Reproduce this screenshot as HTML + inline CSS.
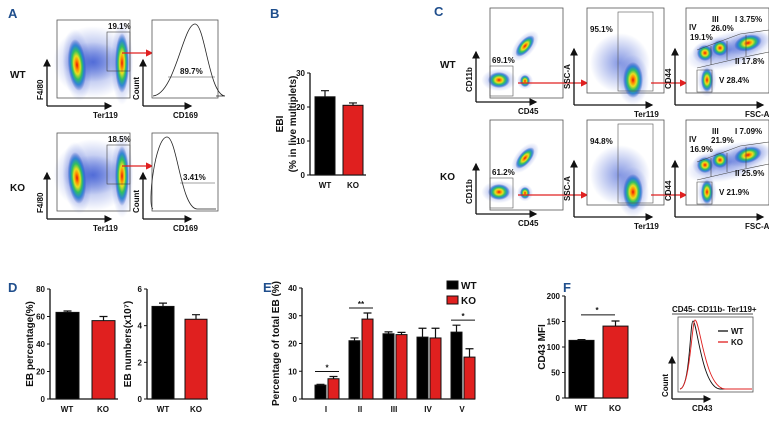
<!DOCTYPE html>
<html><head><meta charset="utf-8"><style>
body{margin:0;background:#fff}
svg{display:block;font-family:"Liberation Sans",Arial,sans-serif}
.t{font-size:8px;font-weight:bold;fill:#111}
.l{font-size:10px;font-weight:bold;fill:#111}
.p{font-size:13px;font-weight:bold;fill:#1f4e8c}
</style></head><body>
<svg id="fig" width="769" height="421" viewBox="0 0 769 421">
<defs>
<radialGradient id="den"><stop offset="0" stop-color="#e01010"/><stop offset="0.18" stop-color="#ff8a00"/><stop offset="0.35" stop-color="#e8e020"/><stop offset="0.55" stop-color="#30c060"/><stop offset="0.75" stop-color="#2080d0" stop-opacity="0.9"/><stop offset="1" stop-color="#2040c0" stop-opacity="0"/></radialGradient>
<radialGradient id="haze"><stop offset="0" stop-color="#3050d0" stop-opacity="0.6"/><stop offset="1" stop-color="#3050d0" stop-opacity="0"/></radialGradient>
<marker id="ab" markerWidth="6" markerHeight="6" refX="5" refY="3" orient="auto"><path d="M0,0L6,3L0,6z" fill="#111"/></marker>
<marker id="ar" markerWidth="6" markerHeight="6" refX="5" refY="3" orient="auto"><path d="M0,0L6,3L0,6z" fill="#e02020"/></marker>
</defs>
<g id="flow"></g>
<g id="bars"></g>
</svg>
<script>
// ---- chart data ----
const groupsB=['WT','KO'];const valuesB=[23,20.5];const errB=[1.8,0.7];const ticksB=[0,10,20,30];
const groupsD1=['WT','KO'];const valuesD1=[63,57];const errD1=[1,3];const ticksD1=[0,20,40,60,80];
const groupsD2=['WT','KO'];const valuesD2=[5.05,4.35];const errD2=[0.18,0.25];const ticksD2=[0,2,4,6];
const categoriesE=['I','II','III','IV','V'];
const wtE=[5,21,23.5,22.3,24.1];const wtErrE=[0.3,1,0.7,3.2,2.5];
const koE=[7.3,28.8,23.2,22,15.1];const koErrE=[0.8,2.2,0.8,3.5,3];
const ticksE=[0,10,20,30,40];
const groupsF=['WT','KO'];const valuesF=[113,141];const errF=[1.5,10];const ticksF=[0,50,100,150,200];

const NS='http://www.w3.org/2000/svg';
function mk(p,tag,at,txt){const e=document.createElementNS(NS,tag);for(const k in at)e.setAttribute(k,at[k]);if(txt!=null)e.textContent=txt;p.appendChild(e);return e;}
const F=document.getElementById('flow'),B=document.getElementById('bars');

[['A',8,18],['B',270,18],['C',434,16],['D',8,292],['E',263,292],['F',563,292]].forEach(a=>{
 const t=mk(F,'text',{x:a[1],y:a[2],class:'p'},a[0]);
 
 
});

function blob(cx,cy,rx,ry,rot){mk(F,'ellipse',{cx,cy,rx:rx*1.6,ry:ry*1.4,fill:'url(#haze)',transform:`rotate(${rot||0} ${cx} ${cy})`});
 mk(F,'ellipse',{cx,cy,rx,ry,fill:'url(#den)',transform:`rotate(${rot||0} ${cx} ${cy})`});}
function box(x,y,w,h,name){const r=mk(F,'rect',{x,y,width:w,height:h,fill:'#fff',stroke:'#555','stroke-width':0.8});
 }
function axes(x,y,lx,ly,xl,yl){mk(F,'path',{d:`M${x},${y}L${x},${y-ly}`,stroke:'#111','stroke-width':1.3,'marker-end':'url(#ab)'});
 mk(F,'path',{d:`M${x},${y}L${x+lx},${y}`,stroke:'#111','stroke-width':1.3,'marker-end':'url(#ab)'});
 const a=mk(F,'text',{x:x+lx-18,y:y+12,class:'t'},xl);
 const b=mk(F,'text',{x:0,y:0,class:'t',transform:`translate(${x-4},${y-ly+40}) rotate(-90)`},yl);}
function txt(x,y,s,cls,name){const t=mk(F,'text',{x,y,class:cls||'t'},s);return t;}
function redArrow(x1,y,x2){mk(F,'path',{d:`M${x1},${y}L${x2},${y}`,stroke:'#e02020','stroke-width':1.2,'marker-end':'url(#ar)'});}

// ---- Panel A ----
[[20,'wt','19.1%','89.7%',195,77],[133,'ko','18.5%','3.41%',167,183]].forEach((r,i)=>{
 const y=r[0];
 box(57,y,73,78,'scatter-a-'+r[1]);
 mk(F,'ellipse',{cx:93,cy:y+42,rx:40,ry:36,fill:'url(#haze)'});
 mk(F,'ellipse',{cx:93,cy:y+42,rx:30,ry:20,fill:'url(#haze)'});
 blob(77,y+45,9,26,-5);blob(122,y+43,7,30,0);
 mk(F,'rect',{x:107,y:y+12,width:23,height:39,fill:'none',stroke:'#444','stroke-width':0.6});
 txt(108,y+9,r[2],'t','gate-pct-a-'+r[1]);
 redArrow(122,y+33,152);
 box(152,y,66,78,'histogram-a-'+r[1]);
 const px=r[4];
 mk(F,'path',{d:`M153,${y+76} C${px-20},${y+74} ${px-12},${y+4} ${px},${y+4} C${px+10},${y+4} ${px+14},${y+75} ${px+30},${y+76} L216,${y+76}`,fill:'none',stroke:'#222','stroke-width':0.8});
 const gy=i==0?y+57:y+50;
 mk(F,'path',{d:`M${i==0?168:180},${gy}H215`,stroke:'#444','stroke-width':0.6});
 txt(i==0?180:183,gy-3,r[3],'t','histogram-pct-a-'+r[1]);
 axes(47,y+86,64,46,'Ter119','F4/80');
 axes(143,y+86,48,46,'CD169','Count');
 txt(10,y+58,r[1].toUpperCase(),'l','row-label-a-'+r[1]).setAttribute('font-size','13');
});

// ---- Panel C ----
[[8,'wt','69.1%','95.1%',['III','I 3.75%','IV','26.0%','19.1%','II 17.8%','V 28.4%']],
 [120,'ko','61.2%','94.8%',['III','I 7.09%','IV','21.9%','16.9%','II 25.9%','V 21.9%']]].forEach((r,i)=>{
 const y=r[0];
 box(490,y,73,90,'scatter-c1-'+r[1]);
 blob(499,y+72,11,8,0);blob(525,y+38,6,13,40);blob(525,y+73,5,6,0);
 mk(F,'rect',{x:490,y:y+58,width:23,height:30,fill:'none',stroke:'#555','stroke-width':0.6});
 txt(492,y+55,r[2],'t','gate-pct-c1-'+r[1]);
 redArrow(518,y+75,587);
 box(587,y,77,85,'scatter-c2-'+r[1]);
 mk(F,'ellipse',{cx:620,cy:y+55,rx:30,ry:30,fill:'url(#haze)'});
 blob(633,y+72,10,18,0);
 mk(F,'rect',{x:618,y:y+4,width:35,height:79,fill:'none',stroke:'#555','stroke-width':0.6});
 txt(590,y+24,r[3],'t','gate-pct-c2-'+r[1]);
 redArrow(651,y+75,686);
 box(686,y,83,85,'scatter-c3-'+r[1]);
 mk(F,'ellipse',{cx:730,cy:y+42,rx:45,ry:18,fill:'url(#haze)',transform:`rotate(-15 730 ${y+42})`});
 blob(705,y+45,8,8,0);blob(720,y+40,8,8,0);blob(748,y+35,14,8,-15);blob(707,y+72,6,12,0);
 mk(F,'path',{d:`M697,${y+42}L740,${y+26}L769,${y+22}M697,${y+60}L740,${y+50}L769,${y+44}M711,${y+38}V${y+57}M727,${y+33}V${y+52}M746,${y+27}V${y+48}M697,${y+62}H712V${y+84}H697z`,fill:'none',stroke:'#444','stroke-width':0.6});
 const L=r[4];
 txt(712,y+14,L[0],'t','gate-III-'+r[1]);txt(735,y+14,L[1],'t','gate-I-'+r[1]);
 txt(689,y+22,L[2],'t','gate-IV-'+r[1]);txt(711,y+23,L[3],'t','pct-III-'+r[1]);
 txt(690,y+32,L[4],'t','pct-IV-'+r[1]);txt(735,y+56,L[5],'t','gate-II-'+r[1]);txt(719,y+75,L[6],'t','gate-V-'+r[1]);
 axes(476,y+94,60,50,'CD45','CD11b');axes(574,y+97,78,56,'Ter119','SSC-A');axes(675,y+97,88,56,'FSC-A','CD44');
 txt(440,y+60,r[1].toUpperCase(),'l','row-label-c-'+r[1]).setAttribute('font-size','13');
});

function barChart(o){
 const g=mk(B,'g',{});
 const yS=v=>o.y0-(v-o.ticks[0])/(o.ticks[o.ticks.length-1]-o.ticks[0])*(o.y0-o.y1);
 mk(g,'line',{x1:o.ax,y1:o.y1,x2:o.ax,y2:o.y0,stroke:'#111','stroke-width':1.3});
 if(o.xaxis)mk(g,'line',{x1:o.ax,y1:o.y0,x2:o.xaxis,y2:o.y0,stroke:'#111','stroke-width':1.3});
 o.ticks.forEach(t=>{mk(g,'line',{x1:o.ax-3,y1:yS(t),x2:o.ax,y2:yS(t),stroke:'#111','stroke-width':1});
  const e=mk(g,'text',{x:o.ax-5,y:yS(t)+3,class:'t','text-anchor':'end'},t);});
 const yl=mk(g,'text',{x:0,y:0,class:'l','text-anchor':'middle',transform:`translate(${o.ylx},${(o.y0+o.y1)/2}) rotate(-90)`});
 o.ylabel.forEach((s,k)=>mk(yl,'tspan',{x:0,dy:k?13:0},s));
 
 o.series.forEach(s=>s.vals.forEach((v,i)=>{const x=s.x(i);
  const top=yS(v+s.err[i]);
  mk(g,'path',{d:`M${x+o.bw/2},${yS(v)}V${top}M${x+o.bw/2-4},${top}h8`,stroke:'#111','stroke-width':1.2});
  const r=mk(g,'rect',{x,y:yS(v),width:o.bw,height:o.y0-yS(v),fill:s.c,stroke:'#111','stroke-width':1});
  }));
 o.cats.forEach((c,i)=>{const e=mk(g,'text',{x:o.cx(i),y:o.y0+13,class:'t','text-anchor':'middle'},c);});
 return {g,yS};
}
barChart({name:'chart-b',ax:310,y0:175,y1:73,ticks:ticksB,bw:20,ylx:283,ylabel:['EBI','(% in live multiplets)'],xaxis:366,
 series:[{n:'wt',vals:[valuesB[0]],err:[errB[0]],c:'#000',x:()=>315},{n:'ko',vals:[valuesB[1]],err:[errB[1]],c:'#e0201f',x:()=>343}],
 cats:groupsB,cx:i=>[325,353][i]});
barChart({name:'chart-d-percentage',ax:50,y0:399,y1:289,ticks:ticksD1,bw:23,ylx:33,ylabel:['EB percentage(%)'],xaxis:118,
 series:[{n:'wt',vals:[valuesD1[0]],err:[errD1[0]],c:'#000',x:()=>56},{n:'ko',vals:[valuesD1[1]],err:[errD1[1]],c:'#e0201f',x:()=>92}],
 cats:groupsD1,cx:i=>[67,103][i]});
barChart({name:'chart-d-numbers',ax:147,y0:399,y1:289,ticks:ticksD2,bw:22,ylx:131,ylabel:['EB numbers(x10⁷)'],xaxis:208,
 series:[{n:'wt',vals:[valuesD2[0]],err:[errD2[0]],c:'#000',x:()=>152},{n:'ko',vals:[valuesD2[1]],err:[errD2[1]],c:'#e0201f',x:()=>185}],
 cats:groupsD2,cx:i=>[163,196][i]});
const E=barChart({name:'chart-e',ax:302,y0:399,y1:288,ticks:ticksE,bw:11,ylx:279,ylabel:['Percentage of total EB (%)'],xaxis:475,
 series:[{n:'wt',vals:wtE,err:wtErrE,c:'#000',x:i=>315+i*34},{n:'ko',vals:koE,err:koErrE,c:'#e0201f',x:i=>328+i*34}],
 cats:categoriesE,cx:i=>326+i*34});
[[0,'*'],[1,'**'],[4,'*']].forEach(a=>{const i=a[0];const y=E.yS(Math.max(wtE[i]+wtErrE[i],koE[i]+koErrE[i]))-5;
 mk(E.g,'line',{x1:315+i*34,y1:y,x2:339+i*34,y2:y,stroke:'#111','stroke-width':1});
 const s=mk(E.g,'text',{x:327+i*34,y:y-1,class:'t','text-anchor':'middle'},a[1]);});
[['WT','#000',288],['KO','#e0201f',303]].forEach(l=>{const gg=mk(E.g,'g',{});
 mk(gg,'rect',{x:447,y:l[2]-7,width:11,height:8,fill:l[1],stroke:'#111'});mk(gg,'text',{x:461,y:l[2]+1,class:'l'},l[0]);});
const Fc=barChart({name:'chart-f',ax:565,y0:398,y1:296,ticks:ticksF,bw:25,ylx:545,ylabel:['CD43 MFI'],xaxis:628,
 series:[{n:'wt',vals:[valuesF[0]],err:[errF[0]],c:'#000',x:()=>569},{n:'ko',vals:[valuesF[1]],err:[errF[1]],c:'#e0201f',x:()=>603}],
 cats:groupsF,cx:i=>[581,615][i]});
mk(Fc.g,'line',{x1:581,y1:Fc.yS(163),x2:615,y2:Fc.yS(163),stroke:'#111','stroke-width':1});
mk(Fc.g,'text',{x:597,y:Fc.yS(163)-2,class:'t','text-anchor':'middle'},'*');

box(678,317,75,75,'histogram-f');
txt(672,312,'CD45- CD11b- Ter119+','t','histogram-f-title').setAttribute('font-size','7');
mk(F,'line',{x1:672,y1:314,x2:753,y2:314,stroke:'#111','stroke-width':0.8});
mk(F,'path',{d:'M680,389C690,388 690,321 693,321C697,321 702,388 720,389H752',fill:'none',stroke:'#111','stroke-width':0.9});
mk(F,'path',{d:'M680,389C690,388 692,320 695,320C700,320 705,388 725,389H752',fill:'none',stroke:'#e02020','stroke-width':0.9});
mk(F,'line',{x1:718,y1:331,x2:728,y2:331,stroke:'#111','stroke-width':1.3});txt(731,334,'WT','t','legend-f-wt');
mk(F,'line',{x1:718,y1:342,x2:728,y2:342,stroke:'#e02020','stroke-width':1.3});txt(731,345,'KO','t','legend-f-ko').setAttribute('fill','#e02020');
axes(672,399,38,42,'CD43','Count');
</script>
</body></html>
